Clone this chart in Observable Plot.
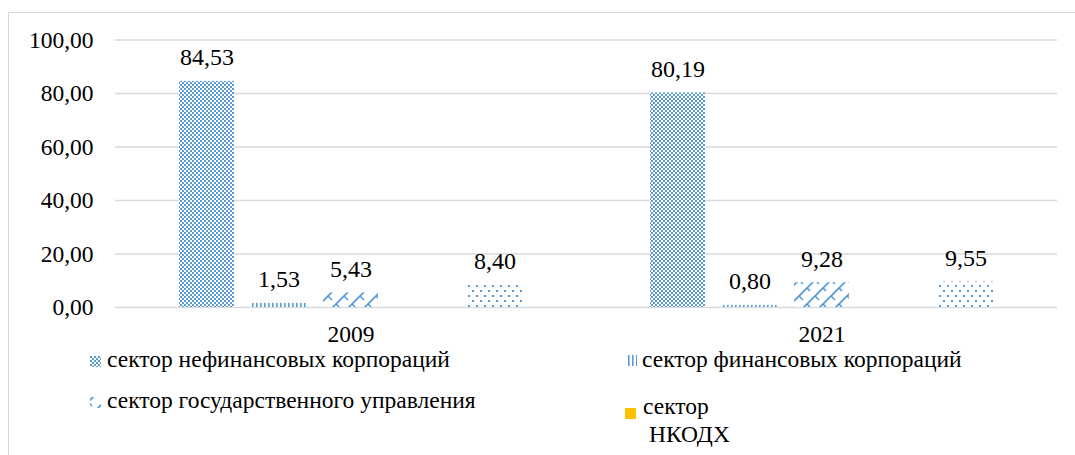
<!DOCTYPE html>
<html>
<head>
<meta charset="utf-8">
<script src="https://cdn.jsdelivr.net/npm/d3@7"></script>
<script src="https://cdn.jsdelivr.net/npm/@observablehq/plot@0.6"></script>
<style>
  html, body { margin: 0; padding: 0; background: #fff; }
  #wrap { position: relative; width: 1075px; height: 455px; overflow: hidden; font-family: 'Liberation Serif', serif; }
  #frame { position: absolute; left: 8px; top: 12px; width: 1200px; height: 600px; border-left: 1px solid #d9d9d9; border-top: 1px solid #d9d9d9; }
  #chart { position: absolute; left: 0; top: 0; }
  #legend { position: absolute; left: 0; top: 346px; }
</style>
</head>
<body>
<div id="wrap">
  <div id="frame"></div>
  <svg width="0" height="0" style="position:absolute">
    <defs>
      <pattern id="pat0" patternUnits="userSpaceOnUse" width="4" height="4">
        <rect width="4" height="4" fill="#ffffff"/>
        <rect x="0" y="0" width="2" height="2" fill="#5B9BD5"/>
        <rect x="2" y="2" width="2" height="2" fill="#5B9BD5"/>
      </pattern>
      <pattern id="pat1" patternUnits="userSpaceOnUse" width="4" height="4">
        <rect width="4" height="4" fill="#ffffff"/>
        <rect x="0" y="0" width="1.6" height="4" fill="#5B9BD5"/>
      </pattern>
      <pattern id="pat2" patternUnits="userSpaceOnUse" width="16" height="16">
        <rect width="16" height="16" fill="#ffffff"/>
        <path d="M0,16 L16,0 M-2,2 L2,-2 M14,18 L18,14" stroke="#5B9BD5" stroke-width="1.8" fill="none"/>
        <path d="M8,8 L12,12 M0,0 L3,3" stroke="#5B9BD5" stroke-width="1.6" fill="none"/>
      </pattern>
      <pattern id="pat3" patternUnits="userSpaceOnUse" width="4" height="4">
        <rect width="4" height="4" fill="#FFC000"/>
      </pattern>
      <pattern id="pat4" patternUnits="userSpaceOnUse" width="8" height="10">
        <rect width="8" height="10" fill="#ffffff"/>
        <rect x="0" y="0" width="2" height="2" fill="#5B9BD5"/>
        <rect x="4" y="5" width="2" height="2" fill="#5B9BD5"/>
      </pattern>
    </defs>
  </svg>
  <div id="chart"></div>
  <div id="legend"></div>
</div>
<script>
const years = ["2009", "2021"];
const series = [
  "сектор нефинансовых корпораций",
  "сектор финансовых корпораций",
  "сектор государственного управления",
  "сектор НКОДХ",
  "сектор домашних хозяйств"
];
const values2009 = [84.53, 1.53, 5.43, null, 8.40];
const values2021 = [80.19, 0.80, 9.28, null, 9.55];
const yTicks = [0, 20, 40, 60, 80, 100];
const legendLabels = ["сектор нефинансовых корпораций", "сектор финансовых корпораций", "сектор государственного управления", "сектор\nНКОДХ"];

const fills = series.map((s, i) => `url(#pat${i})`);
const fmt = v => v.toFixed(2).replace(".", ",");
const FONT = "Liberation Serif";

const rows = [];
[values2009, values2021].forEach((vals, yi) => {
  vals.forEach((v, si) => {
    if (v != null) rows.push({year: years[yi], series: series[si], value: v});
  });
});

const plot = Plot.plot({
  width: 1075,
  height: 346,
  marginTop: 39.5,
  marginBottom: 39,
  marginLeft: 115,
  marginRight: 18,
  style: {fontFamily: FONT, fontSize: "23.5px", color: "#000", background: "transparent"},
  fx: {domain: years, padding: 0, axis: "bottom", tickSize: 0, tickPadding: 18, label: null},
  x: {domain: series, axis: null, paddingInner: 0.233, paddingOuter: 0.843},
  y: {domain: [0, 100], ticks: yTicks, tickFormat: fmt, tickSize: 0, tickPadding: 22, label: null},
  color: {domain: series, range: fills, type: "ordinal"},
  marks: [
    Plot.ruleY(yTicks, {stroke: "#d9d9d9", strokeWidth: 1.5}),
    Plot.barY(rows, {fx: "year", x: "series", y: "value", fill: "series"}),
    Plot.text(rows, {fx: "year", x: "series", y: "value", text: d => fmt(d.value), lineAnchor: "bottom", dy: -16, fontSize: 24, fontFamily: FONT, fill: "#000"})
  ]
});
document.getElementById("chart").appendChild(plot);

// Legend (below the plot SVG)
const leg = d3.select("#legend").append("svg").attr("width", 1075).attr("height", 109)
  .attr("font-family", FONT).attr("font-size", 23.5);
const items = [
  {i: 0, ix: 90, iy: 10, tx: 107, ty: 21},
  {i: 1, ix: 626, iy: 9, tx: 642, ty: 21},
  {i: 2, ix: 90, iy: 51, tx: 107, ty: 62},
  {i: 3, ix: 625, iy: 62, tx: 643, ty: 68}
];
items.forEach(it => {
  leg.append("rect").attr("x", it.ix).attr("y", it.iy).attr("width", 11).attr("height", 11).attr("fill", fills[it.i]);
  const lines = legendLabels[it.i].split("\n");
  const t = leg.append("text").attr("x", it.tx).attr("y", it.ty).attr("fill", "#000");
  lines.forEach((ln, k) => {
    t.append("tspan").attr("x", k === 0 ? it.tx : it.tx + 6).attr("dy", k === 0 ? 0 : 28).text(ln);
  });
});
</script>
</body>
</html>
